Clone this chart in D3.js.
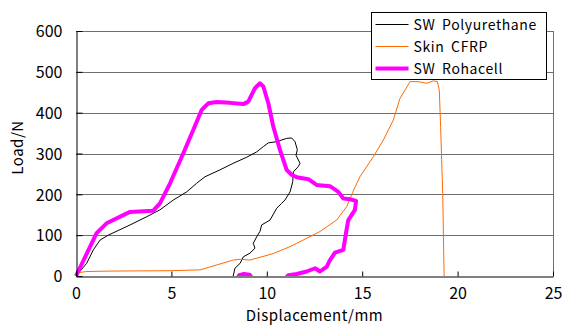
<!DOCTYPE html>
<html lang="en">
<head>
  <meta charset="UTF-8">
  <title>Load vs Displacement</title>
  <script src="https://d3js.org/d3.v7.min.js"></script>
  <style>
    body { margin: 0; background: #fff; }
    text { font-family: "Noto Sans CJK JP", "DejaVu Sans", sans-serif; fill: #000; }
    .tick-label { font-size: 16px; }
    .axis-title { font-size: 15px; letter-spacing: 0.5px; }
    .legend text { font-size: 14px; letter-spacing: 0.6px; word-spacing: 3px; }
  </style>
</head>
<body>
  <svg id="chart" width="563" height="326"></svg>
  <script>
    // series: [displacement mm, load N]
    const polyurethane = [
      [0, 0], [0.56, 31], [0.91, 64], [1.26, 88], [1.69, 100], [2.83, 125], [3.7, 145],
      [4.4, 162], [5.1, 186], [5.8, 206], [6.32, 227], [6.76, 243], [7.55, 260], [8.24, 276],
      [8.95, 291], [9.47, 304], [9.82, 317], [10.08, 326], [10.52, 329], [10.78, 333],
      [11.04, 337], [11.3, 338], [11.48, 329], [11.6, 309], [11.53, 296], [11.74, 276],
      [11.65, 268], [11.39, 255], [11.36, 231], [11.22, 206], [10.95, 186], [10.78, 178],
      [10.52, 166], [10.17, 137], [9.73, 125], [9.64, 109], [9.47, 96], [9.29, 80],
      [9.38, 68], [9.12, 56], [8.77, 47], [8.6, 31], [8.33, 19], [8.24, 0]
    ];
    const skinCfrp = [
      [0, 0], [0.12, 8], [0.56, 11], [1.78, 12], [4.93, 13], [6.5, 15], [7.37, 27],
      [8.24, 39], [8.6, 41], [9.12, 39], [10.34, 55], [11.22, 72], [11.57, 80], [12.79, 109],
      [13.66, 137], [14.19, 170], [14.5, 205], [14.88, 243], [15.58, 292], [16.11, 333],
      [16.63, 382], [16.98, 435], [17.24, 455], [17.51, 476], [17.94, 476], [18.38, 472],
      [18.73, 478], [18.94, 476], [19.04, 455], [19.11, 366], [19.22, 202], [19.29, 7], [19.3, 0]
    ];
    const rohacell = [
      [0, 0], [1.08, 105], [1.6, 129], [2.83, 157], [4.05, 160], [4.4, 178], [4.93, 227],
      [5.62, 300], [6.15, 358], [6.59, 407], [6.94, 423], [7.37, 426], [8.07, 424],
      [8.77, 421], [9.03, 427], [9.38, 460], [9.64, 472], [9.82, 464], [10.08, 423],
      [10.34, 366], [10.69, 309], [11.04, 260], [11.3, 248], [11.57, 242], [12.18, 237],
      [12.61, 223], [13.31, 220], [13.75, 206], [14.01, 190], [14.36, 188], [14.68, 184],
      [14.62, 162], [14.27, 137], [14.15, 105], [14.01, 64], [13.57, 57], [13.31, 39],
      [13.14, 23], [12.79, 11], [12.53, 19], [12.09, 11], [11.57, 5], [11.13, 2], [10.9, -10],
      [9.3, -10], [9.1, 3], [8.8, 5], [8.55, 2], [8.4, -10]
    ];
    const seriesNames = ["SW Polyurethane", "Skin CFRP", "SW Rohacell"];
    const seriesData = [polyurethane, skinCfrp, rohacell];
    const seriesColors = ["#000000", "#ff6a00", "#ff00ff"];
    const seriesWidths = [1, 1, 4];
    const xTicks = [0, 5, 10, 15, 20, 25];
    const yTicks = [0, 100, 200, 300, 400, 500, 600];

    const svg = d3.select("#chart");
    const margin = { left: 76, right: 10, top: 31, bottom: 50 };
    const width = 563 - margin.left - margin.right;
    const height = 326 - margin.top - margin.bottom;

    const x = d3.scaleLinear().domain([0, 25]).range([0, width]);
    const y = d3.scaleLinear().domain([0, 600]).range([height, 0]);

    const g = svg.append("g").attr("transform", `translate(${margin.left},${margin.top})`);

    svg.append("defs").append("clipPath").attr("id", "plot-clip")
      .append("rect").attr("x", -3).attr("y", -3).attr("width", width + 6).attr("height", height + 3);

    // grid lines
    g.selectAll(".grid").data(yTicks.slice(1)).enter().append("line")
      .attr("x1", 0).attr("x2", width)
      .attr("y1", d => Math.round(y(d)) + 0.5).attr("y2", d => Math.round(y(d)) + 0.5)
      .attr("stroke", "#6e6e6e");
    g.append("line")
      .attr("x1", width + 0.5).attr("x2", width + 0.5).attr("y1", 0).attr("y2", height)
      .attr("stroke", "#6e6e6e");

    // lines
    const line = d3.line().x(d => x(d[0])).y(d => y(d[1]));
    const plot = g.append("g").attr("clip-path", "url(#plot-clip)");
    seriesData.forEach((data, i) => {
      plot.append("path")
        .datum(data)
        .attr("d", line)
        .attr("fill", "none")
        .attr("stroke", seriesColors[i])
        .attr("stroke-width", seriesWidths[i])
        .attr("stroke-linejoin", "round");
    });

    // axes
    const xAxis = g.append("g").attr("transform", `translate(0,${height + 0.5})`)
      .call(d3.axisBottom(x).tickValues(xTicks).tickSizeInner(-5).tickSizeOuter(0).tickPadding(11));
    const yAxis = g.append("g").attr("transform", "translate(0.5,0)")
      .call(d3.axisLeft(y).tickValues(yTicks).tickSizeInner(-6).tickSizeOuter(0).tickPadding(14));
    [xAxis, yAxis].forEach(a => {
      a.selectAll("path, line").attr("stroke", "#000");
      a.selectAll("text").attr("class", "tick-label").attr("fill", "#000");
    });
    yAxis.selectAll("text").attr("dy", "0.36em");

    g.append("text").attr("class", "axis-title")
      .attr("x", width / 2).attr("y", height + 45).attr("text-anchor", "middle")
      .text("Displacement/mm");
    svg.append("text").attr("class", "axis-title")
      .attr("transform", `translate(23,${margin.top + height / 2 - 6}) rotate(-90)`)
      .attr("text-anchor", "middle")
      .text("Load/N");

    // legend
    const legend = svg.append("g").attr("class", "legend").attr("transform", "translate(371.5,12.5)");
    legend.append("rect").attr("width", 175).attr("height", 67)
      .attr("fill", "#fff").attr("stroke", "#000");
    seriesNames.forEach((name, i) => {
      const ly = 12 + i * 22;
      legend.append("line").attr("x1", 4).attr("x2", 37).attr("y1", ly).attr("y2", ly)
        .attr("stroke", seriesColors[i]).attr("stroke-width", seriesWidths[i]);
      legend.append("text").attr("x", 42).attr("y", ly).attr("dy", "0.36em").text(name);
    });
  </script>
</body>
</html>
